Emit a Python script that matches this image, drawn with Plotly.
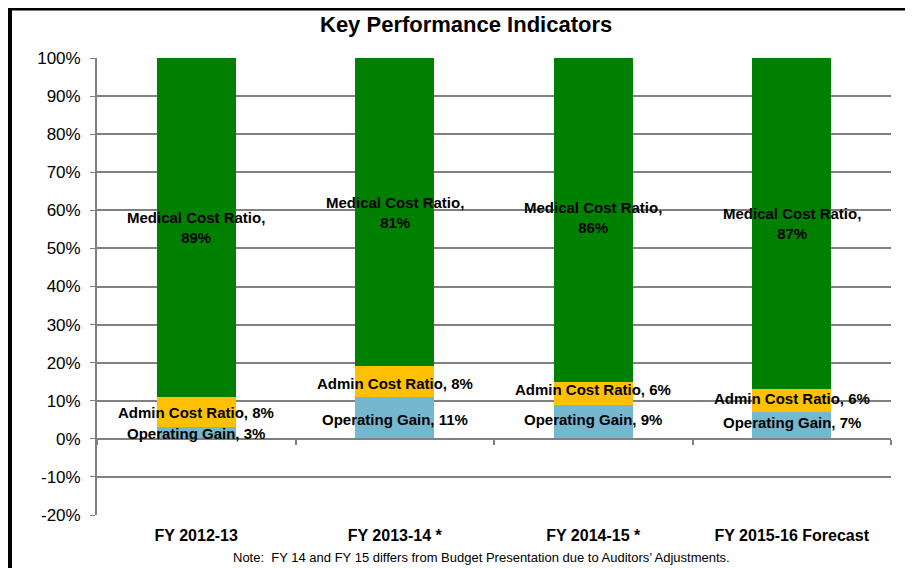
import plotly.graph_objects as go

categories = ["FY 2012-13", "FY 2013-14 *", "FY 2014-15 *", "FY 2015-16 Forecast"]
operating_gain = [0.03, 0.11, 0.09, 0.07]
admin_cost = [0.08, 0.08, 0.06, 0.06]
medical_cost = [0.89, 0.81, 0.86, 0.87]
series_names = ["Operating Gain", "Admin Cost Ratio", "Medical Cost Ratio"]
colors = ["#75B7CF", "#FFC000", "#008000"]
ytick_vals = [-0.2, -0.1, 0, 0.1, 0.2, 0.3, 0.4, 0.5, 0.6, 0.7, 0.8, 0.9, 1.0]
ytick_text = ["-20%", "-10%", "0%", "10%", "20%", "30%", "40%", "50%", "60%", "70%", "80%", "90%", "100%"]
title = "Key Performance Indicators"
note = "Note:  FY 14 and FY 15 differs from Budget Presentation due to Auditors\u2019 Adjustments."

W, H = 913, 568
OFF = 8  # page offset of the figure div
L, R, T, B = 97 - OFF, 891 - OFF, 58 - OFF, 515 - OFF

FONT = "Liberation Sans, Arial"

fig = go.Figure()
series = [operating_gain, admin_cost, medical_cost]
for name, vals, col in zip(series_names, series, colors):
    fig.add_trace(go.Bar(x=categories, y=vals, name=name, marker=dict(color=col, line=dict(width=0)),
                         hoverinfo="skip"))

# invisible trace for the zero-line axis with boundary ticks
fig.add_trace(go.Scatter(x=categories, y=[0] * len(categories), xaxis="x2", mode="markers",
                         marker=dict(opacity=0), hoverinfo="skip", showlegend=False))

label_font = dict(family=FONT, size=15, color="black")
shifts = {
    "Operating Gain": [0, -2, 2, 3],
    "Admin Cost Ratio": [0, -2, 4, 2],
}
annotations = []
for i, cat in enumerate(categories):
    base = 0
    for name, vals in zip(series_names, series):
        v = vals[i]
        mid = base + v / 2
        base += v
        pct = f"{round(v * 100)}%"
        if name == "Medical Cost Ratio":
            txt = f"{name},<br>{pct}"
            ys = 0
        else:
            txt = f"{name}, {pct}"
            ys = shifts[name][i]
        annotations.append(dict(x=cat, y=mid, text=f"<b>{txt}</b>", showarrow=False,
                                xref="x", yref="y", font=label_font, yshift=ys))


def px(xp):
    return (xp - OFF - L) / (R - L)


def py(yp):
    return (B - (yp - OFF)) / (B - T)


annotations.append(dict(x=px(466), y=py(24), xref="paper", yref="paper",
                        xanchor="center", yanchor="middle",
                        text=f"<b>{title}</b>", showarrow=False,
                        font=dict(family=FONT, size=22, color="black")))
annotations.append(dict(x=px(481), y=py(557), xref="paper", yref="paper",
                        xanchor="center", yanchor="middle",
                        text=note, showarrow=False,
                        font=dict(family=FONT, size=13, color="black")))

fig.update_layout(
    width=W, height=H,
    margin=dict(l=L, r=W - R, t=T, b=H - B, pad=0),
    barmode="stack", bargap=0.6,
    showlegend=False,
    plot_bgcolor="white", paper_bgcolor="white",
    font=dict(family=FONT, color="black"),
    annotations=annotations,
    xaxis=dict(type="category", categoryarray=categories, range=[-0.5, 3.5],
               showgrid=False, showline=False, ticks="", zeroline=False,
               tickfont=dict(family=FONT, size=16, color="black", weight="bold"),
               ticklabelstandoff=9),
    xaxis2=dict(type="category", categoryarray=categories, range=[-0.5, 3.5], overlaying="x",
                anchor="free", position=(0 - (-0.2)) / 1.2, showticklabels=False,
                showline=True, linecolor="#808080", linewidth=2,
                ticks="outside", tickson="boundaries", ticklen=5, tickcolor="#808080", tickwidth=1.5,
                showgrid=False, zeroline=False, side="bottom"),
    yaxis=dict(range=[-0.2, 1.0], tickvals=ytick_vals, ticktext=ytick_text,
               showgrid=True, gridcolor="#808080", gridwidth=1.8,
               zeroline=False, showline=True, linecolor="#808080", linewidth=1.8,
               ticks="outside", ticklen=5, tickcolor="#808080", ticklabelstandoff=6,
               tickfont=dict(family=FONT, size=17, color="black")),
    shapes=[dict(type="rect", xref="paper", yref="paper",
                 x0=px(10), x1=px(940),
                 y0=py(610), y1=py(8.5),
                 line=dict(color="black", width=4), fillcolor="rgba(0,0,0,0)", layer="below")],
)

fig.write_html("out.html")
